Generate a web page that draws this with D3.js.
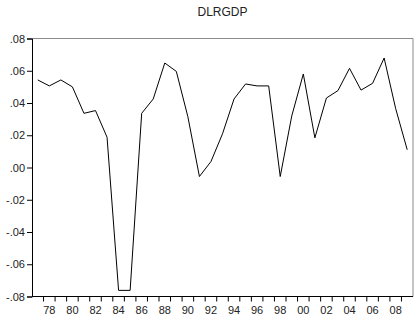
<!DOCTYPE html>
<html>
<head>
<meta charset="utf-8">
<script src="https://cdn.jsdelivr.net/npm/d3@7"></script>
<style>
  html, body { margin: 0; padding: 0; background: #fff; }
  svg { display: block; }
  text { font-family: "Liberation Sans", Arial, sans-serif; fill: #222; }
</style>
</head>
<body>
<svg id="chart" width="416" height="322"></svg>
<script>
// Annual log-difference of real GDP, 1977-2009
const years = d3.range(1977, 2010);
const dlrgdp = [
  0.0543, 0.0506, 0.0543, 0.0500, 0.0336, 0.0353, 0.0188, -0.0762, -0.0762, 0.0336,
  0.0425, 0.0648, 0.0596, 0.0315, -0.0056, 0.0037, 0.0209, 0.0425, 0.0518, 0.0506,
  0.0506, -0.0056, 0.0320, 0.0580, 0.0184, 0.0431, 0.0477, 0.0615, 0.0480, 0.0522,
  0.0679, 0.0365, 0.0110
];
const yTicks = [-0.08, -0.06, -0.04, -0.02, 0.00, 0.02, 0.04, 0.06, 0.08];
const title = "DLRGDP";

const svg = d3.select("#chart");
const margin = { left: 32, right: 3, top: 38.5, bottom: 25.5 };
const W = 416, H = 322;

const x = d3.scaleBand()
  .domain(years)
  .range([margin.left, W - margin.right])
  .paddingInner(0).paddingOuter(0);

const y = d3.scaleLinear()
  .domain([-0.08, 0.08])
  .range([H - margin.bottom, margin.top]);

// ".08" / "-.02" style labels with a plain hyphen
const locale = d3.formatLocale({ decimal: ".", thousands: ",", grouping: [3], currency: ["", ""], minus: "-" });
const fmt = v => locale.format(".2f")(v).replace(/^(-?)0\./, "$1.");

// title
svg.append("text")
  .attr("x", 222.5).attr("y", 16)
  .attr("text-anchor", "middle")
  .style("font-size", "12px")
  .text(title);

// frame: top and right in gray
svg.append("line")
  .attr("x1", margin.left).attr("x2", W - margin.right)
  .attr("y1", y(0.08)).attr("y2", y(0.08))
  .attr("stroke", "#8a8a8a").attr("stroke-width", 1);
svg.append("line")
  .attr("x1", W - margin.right).attr("x2", W - margin.right)
  .attr("y1", y(0.08)).attr("y2", y(-0.08))
  .attr("stroke", "#8a8a8a").attr("stroke-width", 1);

// y axis
const yAxis = d3.axisLeft(y)
  .tickValues(yTicks)
  .tickFormat(fmt)
  .tickSize(5)
  .tickPadding(2);
const gy = svg.append("g")
  .attr("transform", `translate(${margin.left},0)`)
  .call(yAxis);
gy.selectAll("text").style("font-size", "11px");
gy.select(".domain").attr("stroke", "#000");
gy.selectAll(".tick line").attr("stroke", "#000");

// x axis: ticks at year boundaries, labels centred on even years
const boundaries = years.map(d => x(d)).slice(1);
const gx = svg.append("g")
  .attr("transform", `translate(0,${y(-0.08)})`);
gx.append("line")
  .attr("x1", margin.left).attr("x2", W - margin.right)
  .attr("stroke", "#000");
gx.selectAll("line.tick")
  .data(boundaries)
  .join("line")
  .attr("class", "tick")
  .attr("x1", d => d).attr("x2", d => d)
  .attr("y1", 0).attr("y2", 5)
  .attr("stroke", "#000");
gx.selectAll("text")
  .data(years.filter(d => d % 2 === 0))
  .join("text")
  .attr("x", d => x(d) + x.bandwidth() / 2)
  .attr("y", 17)
  .attr("text-anchor", "middle")
  .style("font-size", "11px")
  .text(d => String(d).slice(2));

// series line
const line = d3.line()
  .x((d, i) => x(years[i]) + x.bandwidth() / 2)
  .y(d => y(d));

svg.append("path")
  .datum(dlrgdp)
  .attr("fill", "none")
  .attr("stroke", "#000")
  .attr("stroke-width", 1)
  .attr("d", line);
</script>
</body>
</html>
